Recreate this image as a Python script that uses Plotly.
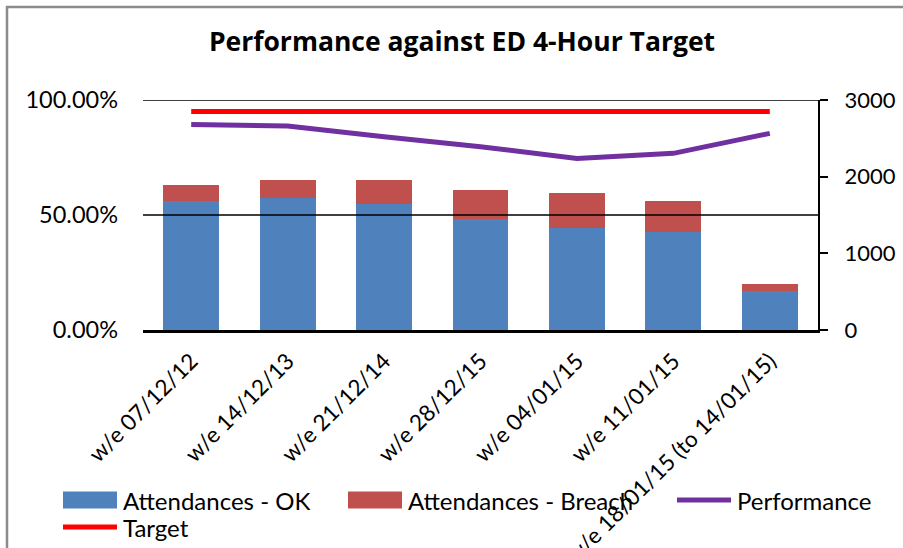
import plotly.graph_objects as go

# ---------------- data ----------------
categories = ["w/e 07/12/12", "w/e 14/12/13", "w/e 21/12/14", "w/e 28/12/15",
              "w/e 04/01/15", "w/e 11/01/15", "w/e 18/01/15 (to 14/01/15)"]
attend_ok = [1683, 1726, 1643, 1448, 1335, 1283, 509]
attend_breach = [208, 231, 314, 378, 452, 400, 91]
performance = [0.894, 0.887, 0.840, 0.797, 0.746, 0.768, 0.855]
target = [0.95, 0.95, 0.95, 0.95, 0.95, 0.95, 0.95]

left_ticks = [0, 0.5, 1.0]
right_ticks = [0, 1000, 2000, 3000]

names = ["Attendances - OK", "Attendances - Breach", "Performance", "Target"]
colors = {"ok": "#4F81BD", "breach": "#C0504D", "perf": "#7030A0", "target": "#FF0000"}

FONT = "Lato, Liberation Sans, sans-serif"
TITLE_FONT = "Open Sans, Lato, sans-serif"
W, H = 903, 548
L, R, T, B = 143, 85, 100, 218
PW, PH = W - L - R, H - T - B


def px(xp):
    return (xp - L) / PW


def py(yp):
    return (H - B - yp) / PH


fig = go.Figure()
fig.add_trace(go.Bar(x=categories, y=attend_ok, name=names[0], marker_color=colors["ok"],
                     marker_line_width=0, yaxis="y2", showlegend=False))
fig.add_trace(go.Bar(x=categories, y=attend_breach, name=names[1], marker_color=colors["breach"],
                     marker_line_width=0, yaxis="y2", showlegend=False))
fig.add_trace(go.Scatter(x=categories, y=performance, name=names[2], mode="lines",
                         line=dict(color=colors["perf"], width=5), yaxis="y", showlegend=False))
fig.add_trace(go.Scatter(x=categories, y=target, name=names[3], mode="lines",
                         line=dict(color=colors["target"], width=5), yaxis="y", showlegend=False))

shapes = []
# gridlines drawn above bars (as in reference)
for v in [0.5, 1.0]:
    shapes.append(dict(type="line", xref="paper", yref="y", x0=0, x1=1, y0=v, y1=v,
                       line=dict(color="black", width=1.6), layer="above"))
# outer frame (top + left visible)
shapes.append(dict(type="rect", xref="paper", yref="paper", x0=px(7), x1=px(W + 20),
                   y0=py(H + 20), y1=py(7), line=dict(color="#8C8C8C", width=2.5),
                   fillcolor="rgba(0,0,0,0)", layer="below"))

annotations = []
# manual legend
leg = [
    (names[0], "box", colors["ok"], 63, 500),
    (names[1], "box", colors["breach"], 348, 500),
    (names[2], "line", colors["perf"], 677, 500),
    (names[3], "line", colors["target"], 63, 527),
]
for name, kind, col, x0, yc in leg:
    if kind == "box":
        shapes.append(dict(type="rect", xref="paper", yref="paper", x0=px(x0), x1=px(x0 + 54),
                           y0=py(yc + 8.5), y1=py(yc - 8.5), fillcolor=col, line=dict(width=0),
                           layer="above"))
    else:
        shapes.append(dict(type="line", xref="paper", yref="paper", x0=px(x0), x1=px(x0 + 54),
                           y0=py(yc), y1=py(yc), line=dict(color=col, width=5), layer="above"))
    annotations.append(dict(text=name, xref="paper", yref="paper", x=px(x0 + 58), y=py(yc),
                            xanchor="left", yanchor="middle", showarrow=False,
                            font=dict(family=FONT, size=24, color="black")))

fig.update_layout(
    width=W, height=H, autosize=False,
    margin=dict(l=L, r=R, t=T, b=B, pad=0),
    paper_bgcolor="white", plot_bgcolor="white",
    barmode="stack", bargap=0.42,
    showlegend=False,
    title=dict(text="<b>Performance against ED 4-Hour Target</b>", x=462 / W, xref="container",
               xanchor="center", y=1 - 42 / H, yanchor="middle",
               font=dict(family=TITLE_FONT, size=26.5, color="black")),
    font=dict(family=FONT, color="black"),
    xaxis=dict(type="category", range=[-0.5, 6.5], showline=True, linecolor="black", linewidth=3,
               ticks="", tickangle=-45, tickfont=dict(family=FONT, size=22.5, color="black"),
               ticklabelstandoff=6, showgrid=False, automargin=False),
    yaxis=dict(range=[0, 1], tickvals=left_ticks, tickformat=".2%", showline=False, ticks="",
               showgrid=False, zeroline=False, ticklabelstandoff=24,
               tickfont=dict(family=FONT, size=23.5, color="black"), automargin=False),
    yaxis2=dict(range=[0, 3000], tickvals=right_ticks, overlaying="y", side="right",
                showline=True, linecolor="black", linewidth=2, ticks="outside", ticklen=8,
                tickwidth=2, tickcolor="black", showgrid=False, zeroline=False,
                ticklabelstandoff=12,
                tickfont=dict(family=FONT, size=22, color="black"), automargin=False),
    shapes=shapes, annotations=annotations,
)

fig.write_html(
    "out.html",
    config={"displayModeBar": False},
    post_script="document.body.style.margin='0';document.body.style.overflow='hidden';",
)
